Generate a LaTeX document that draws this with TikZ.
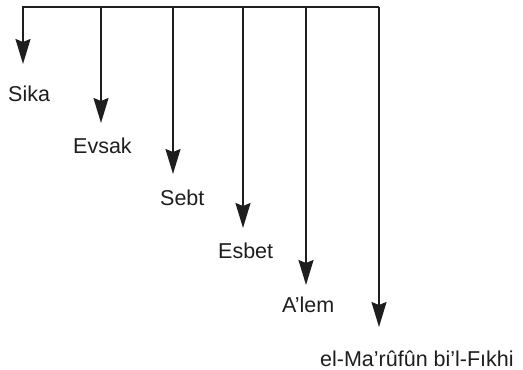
\documentclass[tikz,border=0pt]{standalone}
\usepackage{fontspec}
\setmainfont{Liberation Sans}
\usetikzlibrary{arrows.meta}
\definecolor{ink}{HTML}{1E1E1E}
\begin{document}
\begin{tikzpicture}[x=1pt,y=-1pt,
  conn/.style={draw=ink,line width=1.8pt},
  arr/.style={conn,-{Stealth[length=25pt,width=15pt,inset=3pt]}},
  lbl/.style={anchor=base west,inner sep=0pt,text=ink,font=\fontsize{21.5}{24}\selectfont}]
\useasboundingbox (0,0) rectangle (523,370);
% top points
\coordinate (t1) at (23,7);
\coordinate (t2) at (101,7);
\coordinate (t3) at (173,7);
\coordinate (t4) at (243,7);
\coordinate (t5) at (306,7);
\coordinate (t6) at (379,7);
% arrow tips
\coordinate (e1) at (23,64);
\coordinate (e2) at (101,123);
\coordinate (e3) at (173,174);
\coordinate (e4) at (243,228);
\coordinate (e5) at (306,285);
\coordinate (e6) at (379,327);
% labels
\node[lbl] (sika)  at (8,101)   {Sika};
\node[lbl] (evsak) at (73,153)  {Evsak};
\node[lbl] (sebt)  at (160,205) {Sebt};
\node[lbl] (esbet) at (218,258) {Esbet};
\node[lbl] (alem)  at (282,312) {A'lem};
\node[lbl] (maruf) at (320,366) {el-Ma'rûfûn bi'l-Fıkhi};
% connectors
\draw[arr] (t6) -- (t1) -- (e1);
\draw[arr] (t2) -- (e2);
\draw[arr] (t3) -- (e3);
\draw[arr] (t4) -- (e4);
\draw[arr] (t5) -- (e5);
\draw[arr] (t6) -- (e6);
\end{tikzpicture}
\end{document}
